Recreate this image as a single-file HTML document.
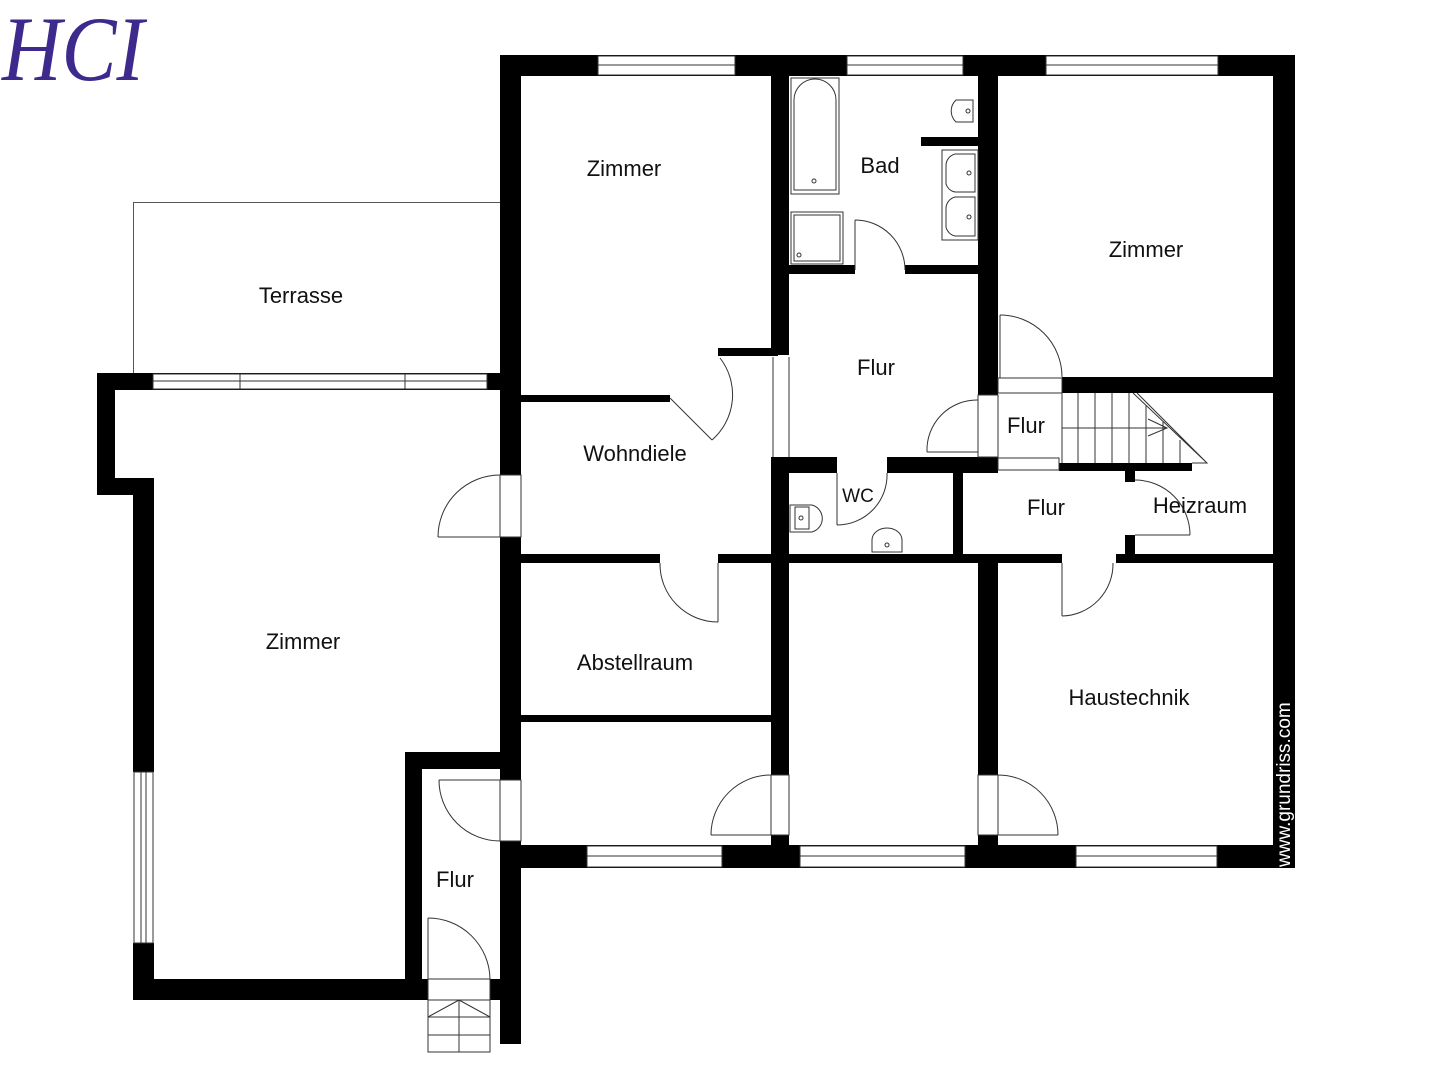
<!DOCTYPE html>
<html><head><meta charset="utf-8"><style>
html,body{margin:0;padding:0;background:#fff;}
svg{display:block;}
text{font-family:"Liberation Sans",sans-serif;fill:#111;}
</style></head><body>
<svg width="1448" height="1080" viewBox="0 0 1448 1080" xmlns="http://www.w3.org/2000/svg">
<rect width="1448" height="1080" fill="#fff"/>
<text x="2" y="80" font-style="italic" font-size="92" style="font-family:'Liberation Serif',serif;fill:#3d2a8c" textLength="142" lengthAdjust="spacingAndGlyphs">HCI</text>

<rect x="133.5" y="202.5" width="367" height="171" fill="none" stroke="#555" stroke-width="1"/>

<g fill="#000">
<rect x="500" y="55" width="795" height="21"/>
<rect x="1273" y="55" width="22" height="813"/>
<rect x="500" y="845" width="795" height="23"/>
<rect x="500" y="55" width="21" height="420"/>
<rect x="500" y="537" width="21" height="243"/>
<rect x="500" y="841" width="21" height="203"/>
<rect x="97" y="373" width="403" height="17"/>
<rect x="97" y="373" width="18" height="122"/>
<rect x="97" y="478" width="56" height="17"/>
<rect x="133" y="478" width="21" height="294"/>
<rect x="133" y="943" width="21" height="57"/>
<rect x="133" y="979" width="295" height="21"/>
<rect x="490" y="979" width="12" height="21"/>
<rect x="405" y="752" width="17" height="248"/>
<rect x="405" y="752" width="116" height="17"/>
<rect x="771" y="55" width="18" height="300"/>
<rect x="771" y="457" width="18" height="318"/>
<rect x="771" y="835" width="18" height="33"/>
<rect x="978" y="55" width="20" height="340"/>
<rect x="1062" y="377" width="211" height="16"/>
<rect x="978" y="563" width="20" height="212"/>
<rect x="978" y="835" width="20" height="33"/>
<rect x="953" y="473" width="10" height="82"/>
<rect x="1125" y="470" width="10" height="12"/>
<rect x="1125" y="535" width="10" height="25"/>
<rect x="789" y="265" width="66" height="9"/>
<rect x="905" y="265" width="75" height="9"/>
<rect x="921" y="137" width="59" height="9"/>
<rect x="521" y="395" width="149" height="7"/>
<rect x="718" y="348" width="60" height="8"/>
<rect x="789" y="457" width="48" height="16"/>
<rect x="887" y="457" width="111" height="16"/>
<rect x="1059" y="463" width="133" height="8"/>
<rect x="521" y="554" width="752" height="9"/>
<rect x="521" y="715" width="250" height="7"/>
</g>
<rect x="1062" y="553" width="54" height="11" fill="#fff"/>
<rect x="660" y="553" width="58" height="11" fill="#fff"/>

<g fill="#fff" stroke="#333" stroke-width="1">
<rect x="598" y="56" width="137" height="19"/>
<rect x="847" y="56" width="116" height="19"/>
<rect x="1046" y="56" width="172" height="19"/>
<rect x="587" y="846" width="135" height="21"/>
<rect x="800" y="846" width="165" height="21"/>
<rect x="1076" y="846" width="141" height="21"/>
<rect x="153" y="374" width="334" height="15"/>
<rect x="134" y="772" width="19" height="171"/>
<rect x="998" y="378" width="64" height="15"/>
</g>
<g stroke="#333" stroke-width="1" fill="none">
<line x1="598" y1="65" x2="735" y2="65"/><line x1="847" y1="65" x2="963" y2="65"/><line x1="1046" y1="65" x2="1218" y2="65"/>
<line x1="587" y1="856" x2="722" y2="856"/><line x1="800" y1="856" x2="965" y2="856"/><line x1="1076" y1="856" x2="1217" y2="856"/>
<line x1="153" y1="381" x2="487" y2="381"/><line x1="240" y1="374" x2="240" y2="389"/><line x1="405" y1="374" x2="405" y2="389"/>
<line x1="141" y1="772" x2="141" y2="943"/><line x1="146" y1="772" x2="146" y2="943"/>
<line x1="773" y1="357" x2="773" y2="457"/><line x1="789" y1="357" x2="789" y2="457"/>
<line x1="670" y1="398" x2="712" y2="440"/><path d="M712 440 A60 60 0 0 0 720 358"/>
<line x1="438" y1="537" x2="500" y2="537"/><path d="M438 537 A62 62 0 0 1 500 475"/>
<rect x="500" y="475" width="21" height="62"/>
<line x1="855" y1="220" x2="855" y2="270"/><path d="M855 220 A50 50 0 0 1 905 270"/>
<line x1="1000" y1="315" x2="1000" y2="378"/><path d="M1000 315 A62 62 0 0 1 1062 377"/>
<line x1="927" y1="452" x2="978" y2="452"/><path d="M927 452 A50 50 0 0 1 978 400"/>
<rect x="978" y="395" width="20" height="62"/>
<line x1="837" y1="525" x2="837" y2="473"/><path d="M837 525 A50 50 0 0 0 887 473"/>
<line x1="1135" y1="535" x2="1190" y2="535"/><path d="M1135 480 A55 55 0 0 1 1190 535"/>
<line x1="718" y1="563" x2="718" y2="622"/><path d="M660 563 A58 58 0 0 0 718 622"/>
<line x1="1062" y1="563" x2="1062" y2="616"/><path d="M1113 563 A52 52 0 0 1 1062 616"/>
<line x1="711" y1="835" x2="771" y2="835"/><path d="M711 835 A60 60 0 0 1 771 775"/>
<rect x="771" y="775" width="18" height="60"/><rect x="978" y="775" width="20" height="60"/>
<line x1="998" y1="835" x2="1058" y2="835"/><path d="M998 775 A60 60 0 0 1 1058 835"/>
<line x1="439" y1="780" x2="500" y2="780"/><path d="M439 780 A61 61 0 0 0 500 841"/>
<rect x="500" y="780" width="21" height="61"/>
<line x1="428" y1="918" x2="428" y2="979"/><path d="M428 918 A62 62 0 0 1 490 979"/>
<rect x="428" y="979" width="62" height="73"/>
<line x1="428" y1="1000" x2="490" y2="1000"/><line x1="428" y1="1017" x2="490" y2="1017"/><line x1="428" y1="1035" x2="490" y2="1035"/>
<line x1="459" y1="1000" x2="459" y2="1052"/><path d="M428 1017 L459 1000 L490 1017"/>
<line x1="1062" y1="393" x2="1062" y2="463"/>
<line x1="1078" y1="393" x2="1078" y2="463"/><line x1="1095" y1="393" x2="1095" y2="463"/><line x1="1112" y1="393" x2="1112" y2="463"/><line x1="1129" y1="393" x2="1129" y2="463"/><line x1="1146" y1="405" x2="1146" y2="463"/><line x1="1163" y1="422" x2="1163" y2="463"/><line x1="1180" y1="440" x2="1180" y2="463"/>
<line x1="1062" y1="428" x2="1167" y2="428"/><path d="M1148 419 L1167 428 L1148 436"/>
<path d="M1133 393 L1207 463 L1192 463 M1137 393 L1207 463"/>
<rect x="998" y="458" width="61" height="12"/>
<rect x="791" y="78" width="48" height="116"/>
<path d="M794 190 L794 100 A21 21 0 0 1 836 100 L836 190 Z"/>
<circle cx="814" cy="181" r="2"/>
<rect x="791" y="212" width="52" height="52"/>
<rect x="794" y="215" width="46" height="46"/>
<circle cx="799" cy="255" r="2"/>
<path d="M973 100 L956 100 A15 15 0 0 0 956 122 L973 122 Z"/><circle cx="968" cy="111" r="2"/>
<rect x="942" y="150" width="36" height="90"/>
<path d="M975 154 L955 154 A12 12 0 0 0 946 166 L946 184 A12 12 0 0 0 955 192 L975 192 Z"/><circle cx="969" cy="173" r="2"/>
<path d="M975 197 L955 197 A12 12 0 0 0 946 209 L946 227 A12 12 0 0 0 955 236 L975 236 Z"/><circle cx="969" cy="217" r="2"/>
<path d="M790 505 L812 505 A14 14 0 0 1 812 532 L790 532 Z"/><rect x="795" y="507" width="14" height="22"/><circle cx="801" cy="518" r="2"/>
<path d="M872 552 L872 540 A15 12 0 0 1 902 540 L902 552 Z"/><circle cx="887" cy="545" r="2"/>
</g>

<g font-size="22" text-anchor="middle">
<text x="624" y="176">Zimmer</text>
<text x="880" y="173">Bad</text>
<text x="1146" y="257">Zimmer</text>
<text x="301" y="303">Terrasse</text>
<text x="876" y="375">Flur</text>
<text x="1026" y="433">Flur</text>
<text x="635" y="461">Wohndiele</text>
<text x="858" y="502" font-size="19">WC</text>
<text x="1046" y="515">Flur</text>
<text x="1200" y="513">Heizraum</text>
<text x="303" y="649">Zimmer</text>
<text x="635" y="670">Abstellraum</text>
<text x="1129" y="705">Haustechnik</text>
<text x="455" y="887">Flur</text>
</g>
<text x="1290" y="867" font-size="19" style="fill:#fff" transform="rotate(-90 1290 867)">www.grundriss.com</text>
</svg>
</body></html>
